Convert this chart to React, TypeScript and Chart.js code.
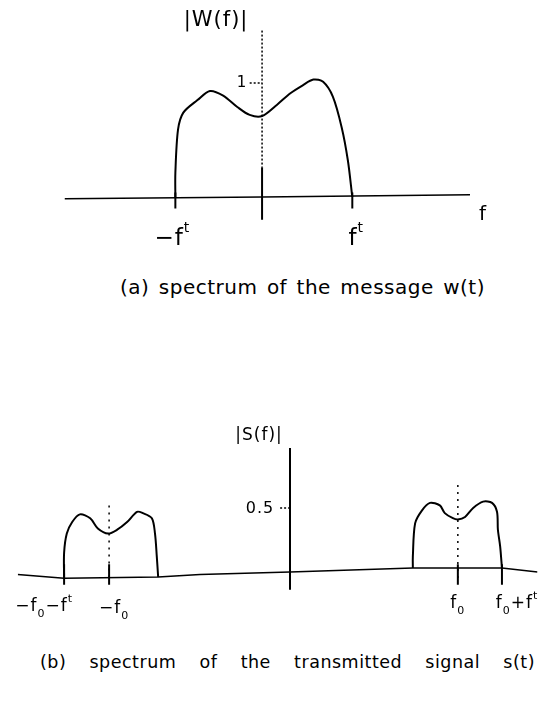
import React, { useEffect, useRef } from "react";
import { Chart, registerables } from "chart.js";
Chart.register(...registerables);

// ---------- (a) message spectrum |W(f)| ----------
const wFreq = [-0.98, -0.98, -0.95, -0.89, -0.73, -0.59, -0.44, -0.28, -0.14, 0, 0.17, 0.32, 0.46, 0.58, 0.69, 0.8, 0.9, 0.97, 1.02];
const wMag = [0, 0.21, 0.59, 0.74, 0.85, 0.93, 0.89, 0.79, 0.72, 0.71, 0.81, 0.91, 0.98, 1.03, 1.01, 0.88, 0.61, 0.32, 0];
const wBaseFreq = [-2.23, 0, 2.35];
const wBaseMag = [-0.015, 0, 0.02];
const wTickValues = [-0.98, 1.02];
const wTickLabels = ["−f^t", "f^t"];
const wYTickValue = 1;
const wYTickLabel = "1";
const wAxisTop = 1.46;
const wAxisBottom = -0.2;

// ---------- (b) transmitted spectrum |S(f)| ----------
const sLeftFreq = [-5.02, -5.02, -4.96, -4.84, -4.67, -4.44, -4.27, -4.04, -3.84, -3.62, -3.4, -3.27, -3.07, -3.0, -2.96, -2.93];
const sLeftMag = [-0.05, 0.15, 0.3, 0.39, 0.45, 0.42, 0.34, 0.3, 0.33, 0.39, 0.47, 0.46, 0.42, 0.3, 0.12, -0.04];
const sRightFreq = [2.73, 2.73, 2.78, 2.93, 3.11, 3.33, 3.44, 3.62, 3.73, 3.89, 4.07, 4.29, 4.49, 4.6, 4.62, 4.67, 4.71];
const sRightMag = [0.03, 0.12, 0.38, 0.48, 0.54, 0.52, 0.46, 0.42, 0.41, 0.43, 0.5, 0.55, 0.54, 0.47, 0.33, 0.2, 0.03];
const sBaseFreq = [-6.05, -5.02, -2.93, -2.0, 0, 2.73, 4.71, 5.5];
const sBaseMag = [-0.02, -0.05, -0.04, -0.02, 0, 0.03, 0.03, 0.0];
const sTickValues = [-5.02, -4.02, 3.73, 4.71];
const sTickLabels = ["−f_0−f^t", "−f_0", "f_0", "f_0+f^t"];
const sCenterValues = [-4.02, 3.73];
const sCenterTops = [0.52, 0.68];
const sYTickValue = 0.5;
const sYTickLabel = "0.5";
const sAxisTop = 0.97;
const sAxisBottom = -0.14;

const FONT = "DejaVu Sans";
const INK = "#000";

function drawRich(ctx: CanvasRenderingContext2D, str: string, cx: number, cy: number, size: number) {
  const parts: { t: string; k: number }[] = [];
  for (let i = 0; i < str.length; i++) {
    const c = str[i];
    if ((c === "^" || c === "_") && i + 1 < str.length) {
      parts.push({ t: str[i + 1], k: c === "^" ? 1 : -1 });
      i++;
    } else {
      parts.push({ t: c, k: 0 });
    }
  }
  const small = Math.round(size * 0.62);
  let total = 0;
  const widths = parts.map((p) => {
    ctx.font = `${p.k === 0 ? size : small}px "${FONT}"`;
    const w = ctx.measureText(p.t).width + 1;
    total += w;
    return w;
  });
  let x = cx - total / 2;
  ctx.fillStyle = INK;
  ctx.textBaseline = "middle";
  ctx.textAlign = "left";
  parts.forEach((p, i) => {
    ctx.font = `${p.k === 0 ? size : small}px "${FONT}"`;
    const dy = p.k === 1 ? -size * 0.45 : p.k === -1 ? size * 0.4 : 0;
    ctx.fillText(p.t, x, cy + dy);
    x += widths[i];
  });
}

const zip = (xs: number[], ys: number[]) => xs.map((x, i) => ({ x, y: ys[i] }));

function line(data: any[], width: number, dash: number[] = [], tension = 0) {
  return {
    data,
    borderColor: INK,
    borderWidth: width,
    borderDash: dash,
    pointRadius: 0,
    tension,
    fill: false,
    spanGaps: false,
  };
}

function vticks(values: number[], top: number, bottom: number) {
  const pts: any[] = [];
  values.forEach((v) => {
    pts.push({ x: v, y: top }, { x: v, y: bottom }, { x: v, y: null });
  });
  return pts;
}

function baseOptions(xmin: number, xmax: number, ymin: number, ymax: number, pad: any) {
  return {
    responsive: false,
    animation: false as const,
    devicePixelRatio: 1,
    events: [] as any[],
    layout: { padding: pad },
    scales: {
      x: { type: "linear" as const, min: xmin, max: xmax, display: false },
      y: { type: "linear" as const, min: ymin, max: ymax, display: false },
    },
    plugins: { legend: { display: false }, tooltip: { enabled: false } },
  };
}

function TopChart() {
  const ref = useRef<HTMLCanvasElement>(null);
  useEffect(() => {
    const labels = {
      id: "wLabels",
      afterDraw(chart: any) {
        const { ctx } = chart;
        const xs = chart.scales.x;
        const ys = chart.scales.y;
        ctx.save();
        const offs = [-3, 4];
        wTickValues.forEach((v, i) => {
          drawRich(ctx, wTickLabels[i], xs.getPixelForValue(v) + offs[i], ys.getPixelForValue(0) + 42, 23);
        });
        drawRich(ctx, wYTickLabel, xs.getPixelForValue(0) - 20, ys.getPixelForValue(wYTickValue), 15);
        drawRich(ctx, "|W(f)|", xs.getPixelForValue(0) - 46, ys.getPixelForValue(wAxisTop) - 10, 21);
        drawRich(ctx, "f", xs.getPixelForValue(wBaseFreq[wBaseFreq.length - 1]) + 13, ys.getPixelForValue(0) + 18, 20);
        ctx.restore();
      },
    };
    const chart = new Chart(ref.current!, {
      type: "line",
      data: {
        datasets: [
          line(zip(wFreq, wMag), 2, [], 0.3),
          line(zip(wBaseFreq, wBaseMag), 1.5),
          line([{ x: 0, y: wAxisTop }, { x: 0, y: 0.26 }], 1.5, [2, 2]),
          line([{ x: 0, y: 0.26 }, { x: 0, y: wAxisBottom }], 2),
          line(vticks(wTickValues, 0.04, -0.1), 2),
          line([{ x: -0.14, y: wYTickValue }, { x: 0, y: wYTickValue }], 1.5, [2, 2]),
        ] as any,
      },
      options: baseOptions(-2.25, 2.4, -0.6, 1.7, { left: 63, right: 67.6, top: 3.2, bottom: 4.6 }) as any,
      plugins: [labels],
    });
    return () => chart.destroy();
  }, []);
  return <canvas ref={ref} width={542} height={270} style={{ position: "absolute", left: 0, top: 0, width: 542, height: 270 }} />;
}

function BottomChart() {
  const ref = useRef<HTMLCanvasElement>(null);
  useEffect(() => {
    const labels = {
      id: "sLabels",
      afterDraw(chart: any) {
        const { ctx } = chart;
        const xs = chart.scales.x;
        const ys = chart.scales.y;
        ctx.save();
        const offs = [-20, 5, 0, 15];
        const dys = [35, 37, 32, 32];
        sTickValues.forEach((v, i) => {
          drawRich(ctx, sTickLabels[i], xs.getPixelForValue(v) + offs[i], ys.getPixelForValue(0) + dys[i], 17);
        });
        drawRich(ctx, sYTickLabel, xs.getPixelForValue(0) - 30, ys.getPixelForValue(sYTickValue) + 1, 16);
        drawRich(ctx, "|S(f)|", xs.getPixelForValue(0) - 31, ys.getPixelForValue(sAxisTop) - 12, 17);
        ctx.restore();
      },
    };
    const chart = new Chart(ref.current!, {
      type: "line",
      data: {
        datasets: [
          line(zip(sLeftFreq, sLeftMag), 2, [], 0.3),
          line(zip(sRightFreq, sRightMag), 2, [], 0.3),
          line(zip(sBaseFreq, sBaseMag), 1.5),
          line([{ x: 0, y: sAxisTop }, { x: 0, y: sAxisBottom }], 2),
          ...sCenterValues.map((v, i) => line([{ x: v, y: sCenterTops[i] }, { x: v, y: -0.05 }], 1.5, [2, 5])),
          line(vticks(sTickValues, 0.06, -0.1), 2),
          line([{ x: -0.22, y: sYTickValue }, { x: 0, y: sYTickValue }], 1.5, [2, 2]),
        ] as any,
      },
      options: baseOptions(-6.05, 5.5, -0.4, 1.4, { left: 17.75, right: 4.5, top: 3, bottom: 17 }) as any,
      plugins: [labels],
    });
    return () => chart.destroy();
  }, []);
  return <canvas ref={ref} width={542} height={250} style={{ position: "absolute", left: 0, top: 390, width: 542, height: 250 }} />;
}

const captionStyle: React.CSSProperties = {
  position: "absolute",
  fontFamily: FONT,
  color: INK,
  textAlign: "justify",
  textAlignLast: "justify" as any,
  whiteSpace: "normal",
};

export default function App() {
  return (
    <div style={{ position: "fixed", left: 0, top: 0, width: 542, height: 717, background: "#fff", overflow: "hidden" }}>
      <TopChart />
      <BottomChart />
      <div style={{ ...captionStyle, left: 120, top: 275, width: 365, fontSize: 20, lineHeight: "24px", letterSpacing: 0.5 }}>
        (a) spectrum of the message w(t)
      </div>
      <div style={{ ...captionStyle, left: 40, top: 651, width: 495, fontSize: 17.5, lineHeight: "22px", letterSpacing: 0.5 }}>
        (b) spectrum of the transmitted signal s(t)
      </div>
    </div>
  );
}
